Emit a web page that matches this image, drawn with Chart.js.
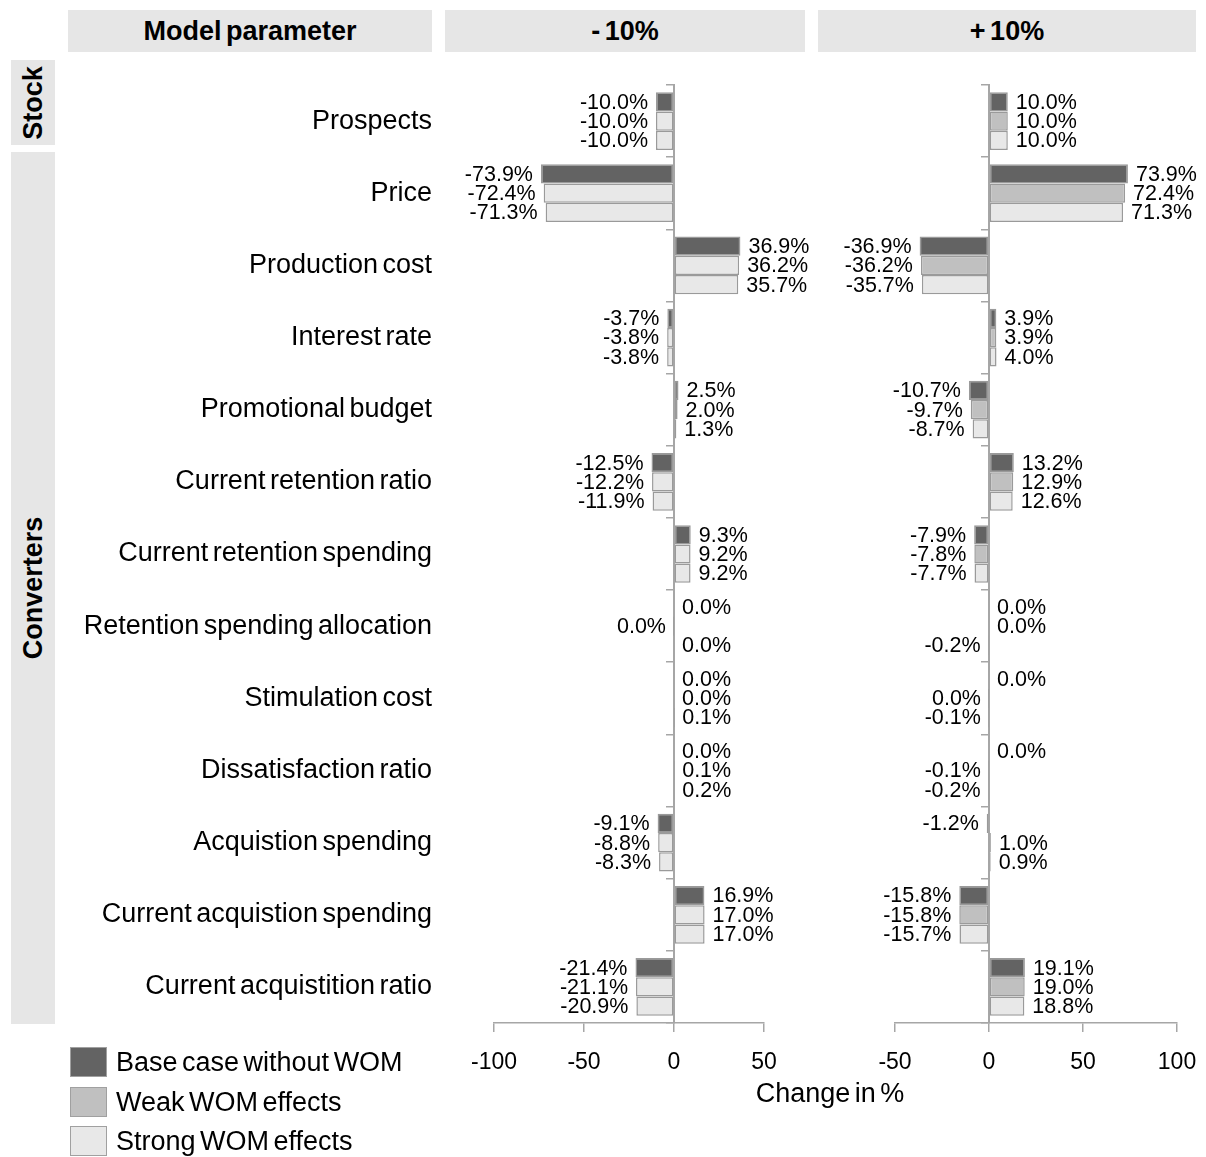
<!DOCTYPE html>
<html>
<head>
<meta charset="utf-8">
<script src="https://cdn.jsdelivr.net/npm/chart.js@4.4.1/dist/chart.umd.min.js"></script>
<style>
    body { margin: 0; background: #fff; font-family: 'Liberation Sans', Arial, sans-serif; word-spacing: -3px; color: #000; }
    #page { position: relative; width: 1206px; height: 1157px; overflow: hidden; }
    .hdr { position: absolute; top: 10px; height: 42px; background: #e6e6e6; font-weight: bold; font-size: 27px; line-height: 42px; text-align: center; }
    .side { position: absolute; left: 11px; width: 44px; background: #e6e6e6; }
    .side span { position: absolute; left: 50%; top: 50%; transform: translate(-50%, -50%) rotate(-90deg); font-weight: bold; font-size: 27px; white-space: nowrap; }
    canvas { position: absolute; }
    #legend { position: absolute; left: 70px; top: 1047px; }
    .item { height: 39.5px; display: flex; align-items: flex-start; font-size: 27px; line-height: 30px; }
    .swatch { width: 35px; height: 28px; border: 1.5px solid #a0a0a0; margin-right: 9px; }
    #xtitle { position: absolute; left: 680px; width: 300px; top: 1077px; line-height: 32px; text-align: center; font-size: 27px; }
</style>
</head>
<body>
<div id="page">
    <div class="hdr" style="left:68px;width:364px">Model parameter</div>
    <div class="hdr" style="left:445px;width:360px">- 10%</div>
    <div class="hdr" style="left:818px;width:378px">+ 10%</div>
    <div class="side" style="top:60px;height:85px"><span>Stock</span></div>
    <div class="side" style="top:152px;height:872px"><span>Converters</span></div>
    <canvas id="leftChart" width="780" height="1030" style="left:60px;top:60px"></canvas>
    <canvas id="rightChart" width="376" height="1030" style="left:830px;top:60px"></canvas>
    <div id="xtitle">Change in %</div>
    <div id="legend"></div>
</div>
<script>
// Model parameters (rows, top to bottom)
const categories = [
    'Prospects', 'Price', 'Production cost', 'Interest rate', 'Promotional budget',
    'Current retention ratio', 'Current retention spending', 'Retention spending allocation',
    'Stimulation cost', 'Dissatisfaction ratio', 'Acquistion spending',
    'Current acquistion spending', 'Current acquistition ratio'
];
const seriesNames = ['Base case without WOM', 'Weak WOM effects', 'Strong WOM effects'];

// -10% scenario
const minusBase   = [-10.0, -73.9, 36.9, -3.7, 2.5, -12.5, 9.3, 0.0, 0.0, 0.0, -9.1, 16.9, -21.4];
const minusWeak   = [-10.0, -72.4, 36.2, -3.8, 2.0, -12.2, 9.2, -0.01, 0.0, 0.1, -8.8, 17.0, -21.1];
const minusStrong = [-10.0, -71.3, 35.7, -3.8, 1.3, -11.9, 9.2, 0.0, 0.1, 0.2, -8.3, 17.0, -20.9];

// +10% scenario
const plusBase   = [10.0, 73.9, -36.9, 3.9, -10.7, 13.2, -7.9, 0.0, 0.0, 0.0, -1.2, -15.8, 19.1];
const plusWeak   = [10.0, 72.4, -36.2, 3.9, -9.7, 12.9, -7.8, 0.0, -0.01, -0.1, 1.0, -15.8, 19.0];
const plusStrong = [10.0, 71.3, -35.7, 4.0, -8.7, 12.6, -7.7, -0.2, -0.1, -0.2, 0.9, -15.7, 18.8];

// x axis ticks
const leftTicks = [-100, -50, 0, 50];
const rightTicks = [-50, 0, 50, 100];

const DARK = '#636363', MID = '#c0c0c0', LIGHT = '#e8e8e8';
const EDGE = '#9a9a9a', AXIS = '#a6a6a6';
const legendColors = [DARK, MID, LIGHT];

Chart.defaults.font.family = "'Liberation Sans', Arial, sans-serif";
Chart.defaults.color = '#000';

function fmt(v) {
    return (Math.abs(v) < 0.05 ? 0 : v).toFixed(1) + '%';
}

// value labels at the end of each bar
const barLabels = {
    id: 'barLabels',
    beforeDraw(chart) {
        chart.ctx.wordSpacing = '-3px';
    },
    afterDatasetsDraw(chart) {
        const ctx = chart.ctx;
        ctx.save();
        ctx.font = "21.5px 'Liberation Sans', Arial, sans-serif";
        ctx.fillStyle = '#000';
        ctx.textBaseline = 'middle';
        chart.data.datasets.forEach((ds, i) => {
            chart.getDatasetMeta(i).data.forEach((bar, j) => {
                const v = ds.data[j];
                const neg = v < 0;
                ctx.textAlign = neg ? 'right' : 'left';
                ctx.fillText(fmt(v), bar.x + (neg ? -8 : 8), bar.y + 1);
            });
        });
        ctx.restore();
    }
};

function makePanel(id, values, colors, ticks, showNames, padding) {
    const datasets = values.map((data, i) => ({
        label: seriesNames[i],
        data: data,
        backgroundColor: colors[i],
        borderColor: EDGE,
        borderWidth: 1.5,
        borderSkipped: false,
        categoryPercentage: 0.8,
        barPercentage: 1.0
    }));

    const yScale = showNames ? {
        grid: { display: false, drawTicks: false },
        border: { display: false },
        ticks: { font: { size: 27 }, padding: 62 },
        afterFit: s => { s.width = 434; s.paddingTop = 0; s.paddingBottom = 0; }
    } : { display: false };

    return new Chart(document.getElementById(id), {
        type: 'bar',
        data: { labels: categories, datasets: datasets },
        options: {
            indexAxis: 'y',
            responsive: false,
            animation: false,
            layout: { padding: padding },
            plugins: { legend: { display: false }, tooltip: { enabled: false } },
            scales: {
                x: {
                    min: ticks[0],
                    max: ticks[ticks.length - 1],
                    ticks: { stepSize: 50, font: { size: 23 }, padding: 17 },
                    grid: { drawOnChartArea: false, tickLength: 9, color: AXIS, lineWidth: 1.5 },
                    border: { color: AXIS, width: 1.5 },
                    afterFit: s => { s.height = 67; s.paddingLeft = 0; s.paddingRight = 0; }
                },
                y: yScale,
                zero: {
                    type: 'category',
                    axis: 'y',
                    position: { x: 0 },
                    offset: true,
                    grid: { drawOnChartArea: false, offset: true, tickLength: 7, color: AXIS, lineWidth: 1.5 },
                    border: { color: AXIS, width: 2 },
                    ticks: { display: false },
                    afterFit: s => { s.width = 0; s.paddingTop = 0; s.paddingBottom = 0; }
                }
            }
        },
        plugins: [barLabels]
    });
}

makePanel('leftChart', [minusBase, minusWeak, minusStrong], [DARK, LIGHT, LIGHT], leftTicks, true,
    { left: 0, right: 76, top: 25, bottom: 0 });
makePanel('rightChart', [plusBase, plusWeak, plusStrong], [DARK, MID, LIGHT], rightTicks, false,
    { left: 65, right: 29, top: 25, bottom: 0 });

// legend
const legend = document.getElementById('legend');
seriesNames.forEach((name, i) => {
    const item = document.createElement('div');
    item.className = 'item';
    item.innerHTML = '<div class="swatch" style="background:' + legendColors[i] + '"></div><span>' + name + '</span>';
    legend.appendChild(item);
});
</script>
</body>
</html>
